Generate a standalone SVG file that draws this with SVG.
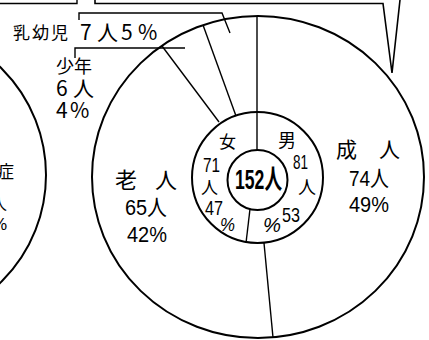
<svg xmlns="http://www.w3.org/2000/svg" width="429" height="340" viewBox="0 0 429 340">
<style>
.ln{fill:none;stroke:#000;stroke-width:1.4}
.th{fill:none;stroke:#000;stroke-width:2}
.t{font-family:"Liberation Sans","Noto Sans CJK JP",sans-serif;fill:#000}
.j{font-family:"Noto Sans CJK JP",sans-serif;fill:#000}
.l{font-family:"Noto Sans CJK JP",sans-serif;font-weight:400;fill:#000}
</style>
<rect width="429" height="340" fill="#fff"/>
<g id="frame">
<path class="ln" d="M0,3.5 H77 V0"/>
<path d="M95,0 V3.5 H383 L392,73 L400,0" fill="#fff" stroke="#000" stroke-width="1.6"/>
</g>
<g id="left-chart">
<circle class="th" cx="-104" cy="175" r="150"/>
<text class="j" x="-3" y="178" font-size="17">症</text>
<text class="j" x="-9" y="210" font-size="16">人</text>
<text class="t" x="-8" y="230" font-size="17">%</text>
</g>
<g id="outer-ring">
<ellipse class="th" cx="258" cy="177" rx="166" ry="161"/>
</g>
<g id="gender-ring">
<circle class="th" cx="257.5" cy="177.5" r="65.5"/>
</g>
<g id="total">
<circle class="th" cx="257.5" cy="180" r="30"/>
<text class="t" x="235" y="189" font-size="27" font-weight="bold" textLength="47" lengthAdjust="spacingAndGlyphs">152人</text>
</g>
<g id="connectors">
<path class="ln" d="M257,16.5 V150"/>
<path class="ln" d="M250,209 L246,243"/>
<path class="ln" d="M264,243 L273,337.5"/>
<path class="ln" d="M162,46 L219,122"/>
<path class="ln" d="M203,25 L236,116"/>
<path class="ln" stroke-width="1.6" d="M79,20 V13 H222 L230,33"/>
<path class="ln" stroke-width="1.6" d="M75,58 V48 H185"/>
</g>
<g id="infant">
<text class="j" x="13" y="39" font-size="17" letter-spacing="2">乳幼児</text>
<text class="l" y="40" font-size="21"><tspan x="80">7</tspan><tspan x="97">人</tspan><tspan x="121">5</tspan><tspan x="138">%</tspan></text>
</g>
<g id="youth">
<text class="l" x="56" y="73" font-size="18">少年</text>
<text class="l" y="96" font-size="21"><tspan x="56">6</tspan><tspan x="73">人</tspan></text>
<text class="l" y="118" font-size="21"><tspan x="56">4</tspan><tspan x="70">%</tspan></text>
</g>
<g id="female">
<text class="j" x="219" y="148" font-size="17">女</text>
<text class="t" x="203" y="172" font-size="21" textLength="17" lengthAdjust="spacingAndGlyphs">71</text>
<text class="j" x="201" y="194" font-size="17">人</text>
<text class="t" x="205" y="215" font-size="21" textLength="18" lengthAdjust="spacingAndGlyphs">47</text>
<text class="t" x="220" y="231" font-size="19" font-style="italic" textLength="15" lengthAdjust="spacingAndGlyphs">%</text>
</g>
<g id="male">
<text class="j" x="278" y="147" font-size="18">男</text>
<text class="t" x="293" y="169" font-size="21" textLength="15" lengthAdjust="spacingAndGlyphs">81</text>
<text class="j" x="298" y="194" font-size="18">人</text>
<text class="t" x="263" y="232" font-size="20" font-style="italic" textLength="18" lengthAdjust="spacingAndGlyphs">%</text>
<text class="t" x="282" y="222" font-size="21" textLength="18" lengthAdjust="spacingAndGlyphs">53</text>
</g>
<g id="adult">
<text class="j" y="157" font-size="21"><tspan x="336">成</tspan><tspan x="379">人</tspan></text>
<text class="t" x="349" y="186" font-size="22" textLength="40" lengthAdjust="spacingAndGlyphs">74人</text>
<text class="t" x="349" y="212" font-size="22" textLength="40" lengthAdjust="spacingAndGlyphs">49%</text>
</g>
<g id="elderly">
<text class="j" y="188" font-size="22"><tspan x="115">老</tspan><tspan x="155">人</tspan></text>
<text class="t" x="125" y="215" font-size="22" textLength="42" lengthAdjust="spacingAndGlyphs">65人</text>
<text class="t" x="127" y="242" font-size="22" textLength="40" lengthAdjust="spacingAndGlyphs">42%</text>
</g>
</svg>
